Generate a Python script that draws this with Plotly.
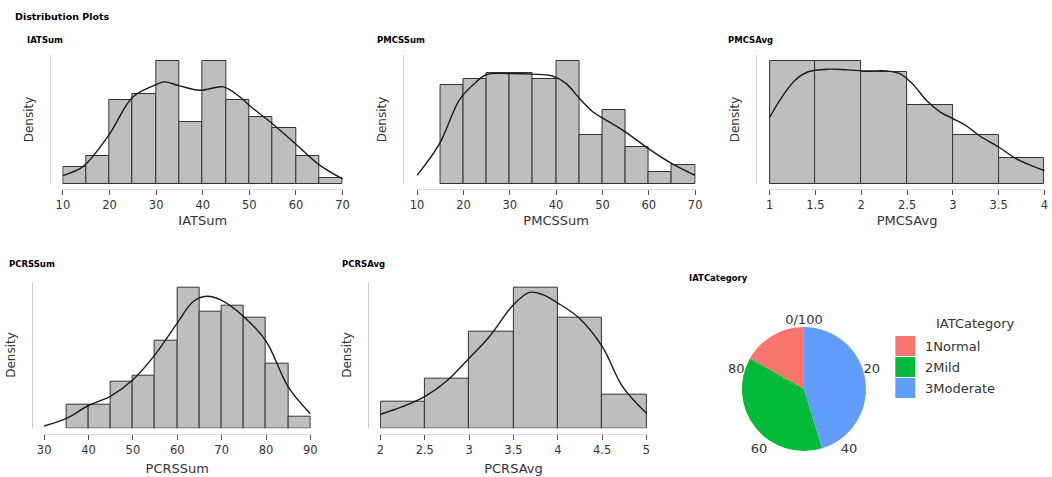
import plotly.graph_objects as go

W, H = 1052, 477

# ---------------- data ----------------
n_obs = 137

iat_edges_start = 10
iat_bw = 5
iat_counts = [3, 5, 15, 16, 22, 11, 22, 15, 12, 10, 5, 1]
iat_kde_x = [10, 13.6, 15, 20, 25, 30, 31.8, 35, 39.4, 44.4, 48, 50, 55, 60, 65, 70]
iat_kde_c = [1.5, 2.7, 3.6, 8.9, 15.5, 17.7, 18.2, 17.5, 16.7, 17.3, 15.5, 14.0, 10.7, 7.1, 3.4, 0.9]

pmcs_edges_start = 15
pmcs_bw = 5
pmcs_counts = [16, 17, 18, 18, 17, 20, 8, 12, 6, 2, 3]
pmcs_kde_x = [10, 14.8, 19.1, 22, 24.9, 29.9, 34.9, 39.2, 42.1, 45, 47.9, 50.7, 55, 60, 65, 70]
pmcs_kde_c = [1.4, 6.5, 13.6, 16.0, 17.7, 17.9, 17.8, 17.5, 16.3, 13.9, 11.7, 10.4, 8.4, 5.7, 3.3, 1.4]

pmcsavg_edges_start = 1
pmcsavg_bw = 0.5
pmcsavg_counts = [33, 33, 30, 21, 13, 7]
pmcsavg_kde_x = [1, 1.136, 1.28, 1.42, 1.64, 1.85, 2.07, 2.28, 2.43, 2.57, 2.71, 2.86, 3.0, 3.15, 3.29, 3.5, 3.68, 3.85, 4]
pmcsavg_kde_c = [17.8, 23.3, 27.8, 30.0, 30.7, 30.5, 30.2, 30.2, 29.4, 26.5, 22.4, 19.3, 17.5, 15.5, 12.9, 9.9, 6.9, 5.0, 3.6]

pcrs_edges_start = 35
pcrs_bw = 5
pcrs_counts = [4, 4, 8, 9, 15, 24, 20, 21, 19, 11, 2]
pcrs_kde_x = [30, 35, 40, 45, 50, 55, 60, 63.6, 66.6, 70, 75, 80, 85, 90]
pcrs_kde_c = [0.4, 1.7, 3.9, 5.5, 8.3, 12.6, 18.0, 21.7, 22.6, 21.9, 19.1, 14.9, 7.1, 2.5]

pcrsavg_edges_start = 2
pcrsavg_bw = 0.5
pcrsavg_counts = [8, 15, 29, 42, 33, 10]
pcrsavg_kde_x = [2, 2.25, 2.5, 2.74, 3, 3.23, 3.5, 3.68, 3.83, 4, 4.24, 4.5, 4.73, 5]
pcrsavg_kde_c = [4.2, 6.5, 9.5, 14.0, 21.0, 27.5, 37.0, 40.7, 40.0, 37.5, 33.0, 24.5, 12.5, 4.5]

iat_categories = ["1Normal", "2Mild", "3Moderate"]
iat_cat_counts = [23, 52, 62]
iat_cat_colors = ["#F8766D", "#00BA38", "#619CFF"]
pie_ticks = [0, 20, 40, 60, 80]

# ---------------- layout helpers ----------------
OFFX, SX = 7.0, 0.988   # horizontal placement correction of the rendered page


def fx(p):
    return min(1.0, max(0.0, (p - OFFX) / SX / W))


def fy(p):
    return 1 - p / H


FONT = "DejaVu Sans"
BAR_FILL = "#bebebe"
BAR_LINE = "#333333"

panels = [
    ("IATSum", iat_edges_start, iat_bw, iat_counts, iat_kde_x, iat_kde_c, [10, 70], 10, (63, 343), 50, (184, 55), 189, 5),
    ("PMCSSum", pmcs_edges_start, pmcs_bw, pmcs_counts, pmcs_kde_x, pmcs_kde_c, [10, 70], 10, (417.7, 696), 403.3, (184, 55), 189, 5),
    ("PMCSAvg", pmcsavg_edges_start, pmcsavg_bw, pmcsavg_counts, pmcsavg_kde_x, pmcsavg_kde_c, [1, 4], 0.5, (770.7, 1049.3), 756.7, (184, 55), 189, 5),
    ("PCRSSum", pcrs_edges_start, pcrs_bw, pcrs_counts, pcrs_kde_x, pcrs_kde_c, [30, 90], 10, (44.3, 310.7), 31.7, (428.3, 281.7), 434, 8),
    ("PCRSAvg", pcrsavg_edges_start, pcrsavg_bw, pcrsavg_counts, pcrsavg_kde_x, pcrsavg_kde_c, [2, 5], 0.5, (381, 647.3), 368.3, (428.3, 281.7), 434, 8),
]
title_pos = [(25, 40), (375, 40), (727, 40), (3, 264), (340, 264)]

fig = go.Figure()
layout = {}
annotations = []
shapes = []

for i, (name, start, bw, counts, kx, kc, xr, dt, xdom, yline, ydom, xline, tstand) in enumerate(panels):
    k = "" if i == 0 else str(i + 1)
    xa, ya = "x" + k, "y" + k
    centers = [start + bw * (j + 0.5) for j in range(len(counts))]
    dens = [c / (n_obs * bw) for c in counts]
    kde = [c / (n_obs * bw) for c in kc]
    fig.add_trace(go.Bar(
        x=centers, y=dens, width=bw, xaxis=xa, yaxis=ya,
        marker=dict(color=BAR_FILL, line=dict(color=BAR_LINE, width=1)),
        showlegend=False, hoverinfo="skip"))
    fig.add_trace(go.Scatter(
        x=kx, y=kde, mode="lines", line=dict(color="#1a1a1a", width=1.4, shape="spline"),
        xaxis=xa, yaxis=ya, showlegend=False, hoverinfo="skip"))
    ymax = max(dens) * 1.045
    eps = (xr[1] - xr[0]) * 0.002
    layout["xaxis" + k] = dict(
        domain=[fx(xdom[0] - 0.6), fx(xdom[1] + 0.6)], range=[xr[0] - eps, xr[1] + eps],
        anchor="free", position=fy(xline),
        tickmode="linear", dtick=dt, tick0=xr[0], showgrid=False, zeroline=False,
        showline=True, linecolor="#dcdcdc", linewidth=1,
        ticks="outside", ticklen=5, tickcolor="#555555", tickwidth=1,
        tickfont=dict(family=FONT, size=11.5, color="#333333"),
        title=dict(text=name, font=dict(family=FONT, size=13, color="#333333"), standoff=tstand),
    )
    layout["yaxis" + k] = dict(
        domain=[fy(ydom[0]), fy(ydom[1])], range=[0, ymax], anchor="free", position=fx(yline),
        showgrid=False, zeroline=False, showticklabels=False, ticks="",
        showline=True, linecolor="#d0d0d0", linewidth=1,
        title=dict(text="Density", font=dict(family=FONT, size=12, color="#333333"), standoff=12),
    )
    annotations.append(dict(
        text="<b>%s</b>" % name, x=fx(title_pos[i][0]), y=fy(title_pos[i][1]),
        xref="paper", yref="paper", xanchor="left", yanchor="middle", showarrow=False,
        font=dict(family=FONT, size=8.5, color="#000000")))

# ---------------- pie ----------------
pie_cx, pie_cy, pie_r = 805, 389, 62
pie_dom_x = [fx(pie_cx - pie_r / SX), fx(pie_cx + pie_r / SX)]
pie_dom_y = [fy(pie_cy + pie_r), fy(pie_cy - pie_r)]
pie_rotation = -360.0 * iat_cat_counts[0] / sum(iat_cat_counts)

fig.add_trace(go.Pie(
    labels=iat_categories, values=iat_cat_counts, sort=False,
    direction="counterclockwise", rotation=pie_rotation,
    marker=dict(colors=iat_cat_colors, line=dict(width=0)),
    textinfo="none", hoverinfo="label+percent",
    domain=dict(x=pie_dom_x, y=pie_dom_y), showlegend=False))

fig.add_trace(go.Scatterpolar(r=[], theta=[], subplot="polar", showlegend=False, hoverinfo="skip"))
layout["polar"] = dict(
    domain=dict(x=pie_dom_x, y=pie_dom_y), bgcolor="rgba(0,0,0,0)",
    radialaxis=dict(visible=False),
    angularaxis=dict(
        rotation=90, direction="clockwise", tickmode="array",
        tickvals=[t * 3.6 for t in pie_ticks],
        ticktext=["0/100" if t == 0 else str(t) for t in pie_ticks],
        showline=False, showgrid=False, ticks="",
        tickfont=dict(family=FONT, size=13, color="#333333")),
)

# legend (large swatches as in the reference)
leg_x0, leg_y0, sw, row_h = 896.5, 336, 20, 21
for j, (lab, col) in enumerate(zip(iat_categories, iat_cat_colors)):
    top = leg_y0 + j * row_h
    shapes.append(dict(type="rect", xref="paper", yref="paper",
                       x0=fx(leg_x0), x1=fx(leg_x0 + sw), y0=fy(top + sw), y1=fy(top),
                       fillcolor=col, line=dict(width=0)))
    annotations.append(dict(
        text=lab, x=fx(leg_x0 + sw + 8), y=fy(top + sw / 2), xref="paper", yref="paper",
        xanchor="left", yanchor="middle", showarrow=False,
        font=dict(family=FONT, size=13, color="#333333")))

annotations.append(dict(
    text="<b>IATCategory</b>", x=fx(688), y=fy(278), xref="paper", yref="paper",
    xanchor="left", yanchor="middle", showarrow=False,
    font=dict(family=FONT, size=8.5, color="#000000")))
annotations.append(dict(
    text="IATCategory", x=fx(935), y=fy(323), xref="paper", yref="paper",
    xanchor="left", yanchor="middle", showarrow=False,
    font=dict(family=FONT, size=13, color="#333333")))
annotations.append(dict(
    text="<b>Distribution Plots</b>", x=fx(13), y=fy(17), xref="paper", yref="paper",
    xanchor="left", yanchor="middle", showarrow=False,
    font=dict(family=FONT, size=9.5, color="#000000")))

fig.update_layout(
    width=W, height=H, margin=dict(l=0, r=0, t=0, b=0),
    paper_bgcolor="white", plot_bgcolor="white",
    bargap=0, annotations=annotations, shapes=shapes, showlegend=False,
    **layout,
)

fig.write_html("out.html", config={"displayModeBar": False},
               post_script="document.body.style.margin='0px';document.body.style.overflow='hidden';")
